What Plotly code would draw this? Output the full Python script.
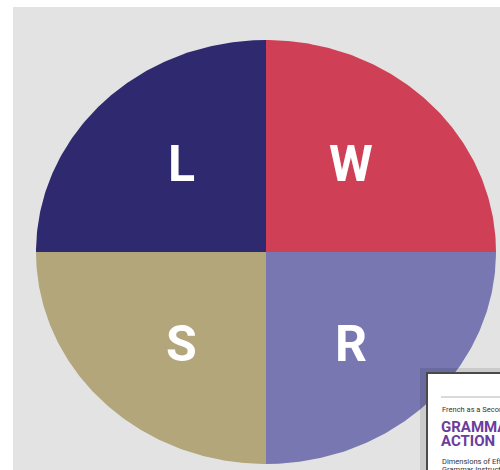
import numpy as np
import plotly.graph_objects as go

# Data
labels = ["W", "R", "S", "L"]
values = [1, 1, 1, 1]
colors = ["#cf3f55", "#7877b1", "#b3a67b", "#2f2a6f"]

cover_series = "French as a Second Language"
cover_title = ["GRAMMAR IN", "ACTION"]
cover_sub = ["Dimensions of Effective", "Grammar Instruction"]

W, H = 500, 470
ml, mt = 13, 7
pw, ph = W - ml, H - mt
cx, cy = 266, 252          # ellipse centre (px)
rx, ry = 230, 212          # semi-axes (px)
lab_rx, lab_ry = 0.52, 0.60  # label radial placement (fraction of radius)
lab_yshift = -2              # px

fig = go.Figure()
annotations = []

total = sum(values)
start = 90.0
for lab, v, c in zip(labels, values, colors):
    sweep = 360.0 * v / total
    ang = np.radians(np.linspace(start, start - sweep, 120))
    xs = np.concatenate([[0], np.cos(ang), [0]])
    ys = np.concatenate([[0], np.sin(ang), [0]])
    fig.add_trace(go.Scatter(x=xs, y=ys, fill="toself", fillcolor=c, mode="lines",
                             line=dict(width=0, color=c), hoverinfo="skip", showlegend=False))
    mid = np.radians(start - sweep / 2)
    annotations.append(dict(xref="x", yref="y", x=lab_rx * np.cos(mid), y=lab_ry * np.sin(mid),
                            text=lab, showarrow=False, xanchor="center", yanchor="middle",
                            yshift=lab_yshift,
                            font=dict(family="Roboto", size=50, color="white", weight="bold")))
    start -= sweep

def px2x(p):
    return (p - ml) / pw
def py2y(p):
    return (H - p) / ph

shapes = [
    dict(type="rect", xref="paper", yref="paper", x0=px2x(420), x1=px2x(520), y0=py2y(368), y1=py2y(490),
         fillcolor="rgba(0,0,0,0.10)", line=dict(width=0), layer="above"),
    dict(type="rect", xref="paper", yref="paper", x0=px2x(427), x1=px2x(520), y0=py2y(373), y1=py2y(490),
         fillcolor="white", line=dict(width=2, color="#4a4a4a"), layer="above"),
    dict(type="line", xref="paper", yref="paper", x0=px2x(441), x1=px2x(510), y0=py2y(397), y1=py2y(397),
         line=dict(width=1, color="#b5b5b5"), layer="above"),
]

annotations += [
    dict(xref="paper", yref="paper", x=px2x(440), y=py2y(409), xanchor="left", yanchor="middle",
         text=cover_series, showarrow=False, font=dict(family="Roboto", size=7.5, color="#333333")),
    dict(xref="paper", yref="paper", x=px2x(439), y=py2y(427), xanchor="left", yanchor="middle",
         text=cover_title[0], showarrow=False, font=dict(family="Roboto", size=15, color="#6b3d9c", weight="bold")),
    dict(xref="paper", yref="paper", x=px2x(439), y=py2y(441), xanchor="left", yanchor="middle",
         text=cover_title[1], showarrow=False, font=dict(family="Roboto", size=15, color="#6b3d9c", weight="bold")),
    dict(xref="paper", yref="paper", x=px2x(440), y=py2y(461), xanchor="left", yanchor="middle",
         text=cover_sub[0], showarrow=False, font=dict(family="Roboto", size=7.5, color="#333333")),
    dict(xref="paper", yref="paper", x=px2x(440), y=py2y(469), xanchor="left", yanchor="middle",
         text=cover_sub[1], showarrow=False, font=dict(family="Roboto", size=7.5, color="#333333")),
]

fig.update_layout(
    width=W, height=H,
    margin=dict(l=ml, r=0, t=mt, b=0),
    paper_bgcolor="white", plot_bgcolor="#e3e3e3",
    xaxis=dict(range=[(ml - cx) / rx, (W - cx) / rx], visible=False, fixedrange=True),
    yaxis=dict(range=[(cy - H) / ry, (cy - mt) / ry], visible=False, fixedrange=True),
    shapes=shapes, annotations=annotations,
)

fig.write_html("out.html", config={"displayModeBar": False},
               post_script="document.body.style.margin='0';document.body.style.overflow='hidden';")
